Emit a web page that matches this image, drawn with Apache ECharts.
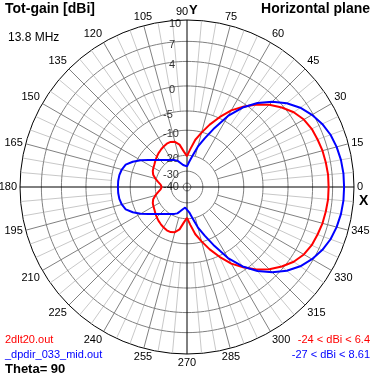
<!DOCTYPE html>
<html><head><meta charset="utf-8">
<script src="https://cdn.jsdelivr.net/npm/echarts@6/dist/echarts.min.js"></script>
<style>html,body{margin:0;padding:0;background:#fff}#c{width:375px;height:374px}</style>
</head><body><div id="c"></div>
<script>
// ---------- data ----------
const RING_DBI = [10, 7, 4, 0, -5, -10, -20, -30, -40];
const ANGLE_STEP_MAJOR = 15;
const ANGLES = [0,5,10,15,20,25,30,35,40,45,50,55,60,65,70,75,80,85,90,95,100,105,110,115,120,125,130,135,140,145,150,155,160,165,170,175,180,
  185,190,195,200,205,210,215,220,225,230,235,240,245,250,255,260,265,270,275,280,285,290,295,300,305,310,315,320,325,330,335,340,345,350,355,360];
const RED_DBI = [6.4,6.4,6.3,6.2,6.0,5.8,5.4,4.7,3.7,2.5,1.1,-0.6,-2.5,-4.8,-7.5,-10.2,-13.5,-17.5,-20.5,-18.5,-15.5,-14.0,-13.5,-13.6,-14.0,-14.5,-15.0,-15.6,-16.2,-16.8,-17.2,-17.6,-18.3,-19.6,-21.5,-23.3,-24.0,
  -23.3,-21.5,-19.6,-18.3,-17.6,-17.2,-16.8,-16.2,-15.6,-15.0,-14.5,-14.0,-13.6,-13.5,-14.0,-15.5,-18.5,-20.5,-17.5,-13.5,-10.2,-7.5,-4.8,-2.5,-0.6,1.1,2.5,3.7,4.7,5.4,5.8,6.0,6.2,6.3,6.4,6.4];
const BLUE_DBI = [8.61,8.6,8.5,8.3,8.0,7.5,6.8,5.9,4.7,3.2,1.4,-0.8,-3.8,-7.8,-12.0,-16.0,-20.0,-24.0,-27.0,-26.9,-25.9,-24.3,-22.3,-21.3,-20.3,-19.5,-18.6,-17.4,-15.9,-13.9,-11.3,-9.2,-7.8,-7.2,-6.9,-6.8,-6.8,
  -6.8,-6.9,-7.2,-7.8,-9.2,-11.3,-13.9,-15.9,-17.4,-18.6,-19.5,-20.3,-21.3,-22.3,-24.3,-25.9,-26.9,-27.0,-24.0,-20.0,-16.0,-12.0,-7.8,-3.8,-0.8,1.4,3.2,4.7,5.9,6.8,7.5,8.0,8.3,8.5,8.6,8.61];
const RED_NAME = '2dlt20.out';
const BLUE_NAME = '_dpdir_033_mid.out';
const RED_RANGE = '-24 < dBi < 6.4';
const BLUE_RANGE = '-27 < dBi < 8.61';

// ---------- radial scale (4nec2 log-like dB scale) ----------
const SCALE_DBI  = [-40, -30, -20, -10, -5, 0, 4, 7, 10];
const SCALE_FRAC = [0.024, 0.095, 0.19, 0.34, 0.455, 0.605, 0.752, 0.872, 1];
function rScale(d) {
  if (d <= SCALE_DBI[0]) return SCALE_FRAC[0] * Math.max(0, 1 + (d - SCALE_DBI[0]) / 10);
  for (let i = 1; i < SCALE_DBI.length; i++) {
    if (d <= SCALE_DBI[i]) {
      const t = (d - SCALE_DBI[i-1]) / (SCALE_DBI[i] - SCALE_DBI[i-1]);
      return SCALE_FRAC[i-1] + t * (SCALE_FRAC[i] - SCALE_FRAC[i-1]);
    }
  }
  return 1;
}

const chart = echarts.init(document.getElementById('c'), null, {renderer: 'canvas'});
const FONT = '"Liberation Sans", Arial, sans-serif';
const series = [];

// rings
RING_DBI.forEach(d => {
  if (d === RING_DBI[0]) return;
  const pts = [];
  for (let a = 0; a <= 360; a += 2) pts.push([rScale(d), a]);
  series.push({type: 'line', coordinateSystem: 'polar', data: pts, symbol: 'none', silent: true,
    lineStyle: {color: '#808080', width: 1}, z: 1});
});
// spokes
for (let a = 0; a < 360; a += 5) {
  const major = a % ANGLE_STEP_MAJOR === 0;
  if (a % 90 === 0) continue;
  const r0 = major ? rScale(-20) : rScale(-5);
  series.push({type: 'line', coordinateSystem: 'polar', data: [[r0, a], [1, a]], symbol: 'none', silent: true,
    lineStyle: {color: major ? '#808080' : '#c8c8c8', width: 1}, z: major ? 1 : 0});
}
// main axes
series.push({type: 'line', coordinateSystem: 'polar', data: [[1, 0], [0, 0], [1, 180]], symbol: 'none', silent: true,
  lineStyle: {color: '#000', width: 1}, z: 2});
series.push({type: 'line', coordinateSystem: 'polar', data: [[1, 90], [0, 90], [1, 270]], symbol: 'none', silent: true,
  lineStyle: {color: '#000', width: 1}, z: 2});
// ring labels (digits start just left of the Y axis, minus sign hangs further left)
series.push({type: 'scatter', coordinateSystem: 'polar', symbolSize: 0, silent: true, z: 5,
  data: RING_DBI.map(d => ({value: [rScale(d), 90], name: String(d)})),
  label: {show: true, position: 'inside', formatter: p => p.name, align: 'left', verticalAlign: 'middle',
    color: '#000', fontFamily: FONT, fontSize: 11},
  labelLayout: p => ({dx: (Number(p.text) < 0 ? -24 : -18), dy: 4})});
// patterns
series.push({type: 'line', coordinateSystem: 'polar', name: RED_NAME, symbol: 'none', z: 10,
  data: ANGLES.map((a, i) => [rScale(RED_DBI[i]), a]), lineStyle: {color: '#ff0000', width: 2}});
series.push({type: 'line', coordinateSystem: 'polar', name: BLUE_NAME, symbol: 'none', z: 11,
  data: ANGLES.map((a, i) => [rScale(BLUE_DBI[i]), a]), lineStyle: {color: '#0000ff', width: 2}});

const txt = (text, x, y, opt) => ({type: 'text', x, y, z: 20, style: Object.assign({text, font: '11px ' + FONT, fill: '#000',
  textAlign: 'left', textVerticalAlign: 'middle'}, opt || {})});

chart.setOption({
  animation: false,
  backgroundColor: '#fff',
  polar: {center: [187, 187], radius: 167},
  angleAxis: {type: 'value', min: 0, max: 360, interval: ANGLE_STEP_MAJOR, startAngle: 0, clockwise: false,
    axisLine: {show: true, lineStyle: {color: '#000', width: 1}},
    axisTick: {show: false}, splitLine: {show: false},
    axisLabel: {show: true, margin: 3, color: '#000', fontFamily: FONT, fontSize: 11,
      formatter: v => (v === 360 ? '' : (v === 90 ? '{s|90}' : String(v))),
      rich: {s: {padding: [0, 10, 0, 0], fontFamily: FONT, fontSize: 11, color: '#000'}}}},
  radiusAxis: {type: 'value', min: 0, max: 1, axisLine: {show: false}, axisTick: {show: false},
    axisLabel: {show: false}, splitLine: {show: false}},
  series,
  graphic: [
    txt('Tot-gain [dBi]', 5, 9, {font: 'bold 14px ' + FONT}),
    txt('13.8 MHz', 8, 38, {font: '12px ' + FONT}),
    txt('Horizontal plane', 370, 9, {font: 'bold 14px ' + FONT, textAlign: 'right'}),
    txt('Y', 189, 10, {font: 'bold 13px ' + FONT}),
    txt('X', 359, 201, {font: 'bold 14px ' + FONT}),
    txt(RED_NAME, 5, 340, {font: '11px ' + FONT, fill: '#ff0000'}),
    txt(BLUE_NAME, 5, 355, {font: '11px ' + FONT, fill: '#0000ff'}),
    txt('Theta= 90', 5, 369, {font: 'bold 13px ' + FONT}),
    txt(RED_RANGE, 370, 340, {font: '11px ' + FONT, fill: '#ff0000', textAlign: 'right'}),
    txt(BLUE_RANGE, 370, 355, {font: '11px ' + FONT, fill: '#0000ff', textAlign: 'right'})
  ]
});
</script></body></html>
